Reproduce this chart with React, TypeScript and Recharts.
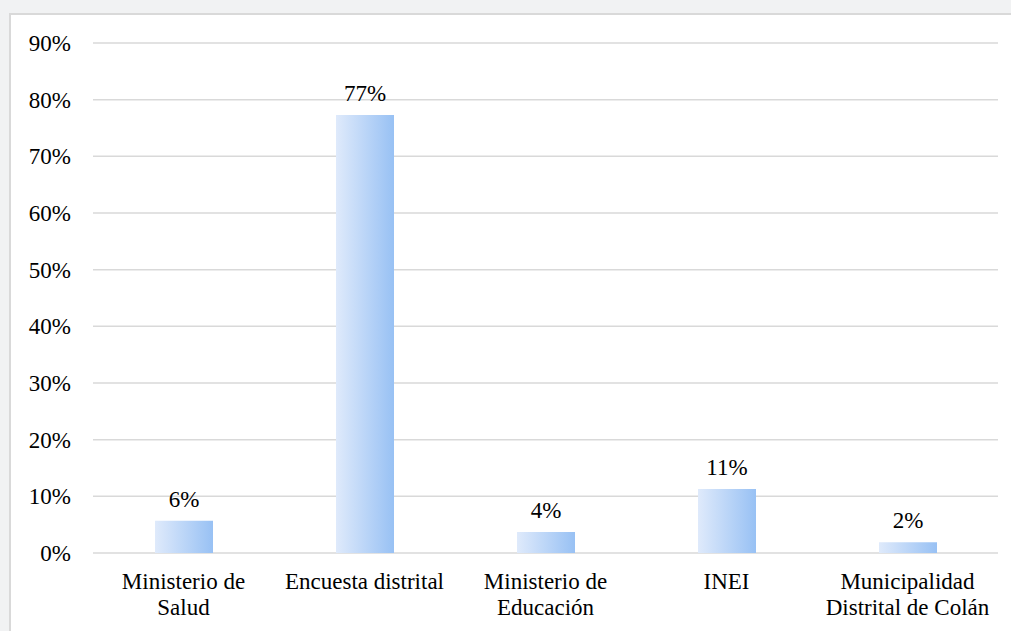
import React from 'react';
import { BarChart, Bar, XAxis, YAxis, CartesianGrid, LabelList } from 'recharts';

const categories = [
  'Ministerio de\nSalud',
  'Encuesta distrital',
  'Ministerio de\nEducación',
  'INEI',
  'Municipalidad\nDistrital de Colán',
];
const shares = [5.7, 77.3, 3.7, 11.3, 1.9];
const yTicks = [0, 10, 20, 30, 40, 50, 60, 70, 80, 90];

const data = categories.map((name, i) => ({ name, value: shares[i] }));

const FONT = '"Liberation Serif", "Times New Roman", serif';
const FS = 23;

const CategoryTick = (props: any) => {
  const { x, y, payload } = props;
  const lines = String(payload.value).split('\n');
  return (
    <text x={x} y={y} textAnchor="middle" fill="#000" style={{ fontFamily: FONT, fontSize: FS }}>
      {lines.map((line, i) => (
        <tspan key={i} x={x} dy={i === 0 ? 28 : 26}>
          {line}
        </tspan>
      ))}
    </text>
  );
};

const PercentTick = (props: any) => {
  const { x, y, payload } = props;
  // keep the label ~22px left of the plot area
  return (
    <text x={x - 14} y={y} dy={8} textAnchor="end" fill="#000" style={{ fontFamily: FONT, fontSize: FS }}>
      {`${payload.value}%`}
    </text>
  );
};

const ValueLabel = (props: any) => {
  const { x, y, width, value } = props;
  return (
    <text x={x + width / 2} y={y - 14} textAnchor="middle" fill="#000" style={{ fontFamily: FONT, fontSize: FS }}>
      {`${Math.round(Number(value))}%`}
    </text>
  );
};

export default function App() {
  return (
    <div style={{ position: 'absolute', left: 0, top: 0, width: 1011, height: 631, background: '#f1f2f3', overflow: 'hidden', fontFamily: FONT }}>
      <div
        style={{
          position: 'absolute',
          left: 9,
          top: 13,
          width: 1010,
          height: 630,
          background: '#fff',
          border: '2px solid #d9d9d9',
          boxSizing: 'border-box',
        }}
      >
        <BarChart
          width={1001}
          height={617}
          data={data}
          margin={{ top: 28, right: 14, left: 0, bottom: 0 }}
          barSize={58}
        >
          <defs>
            <linearGradient id="barFill" x1="0" y1="0" x2="1" y2="0">
              <stop offset="0%" stopColor="#dfeafb" />
              <stop offset="100%" stopColor="#98c1f4" />
            </linearGradient>
          </defs>
          <CartesianGrid vertical={false} stroke="#d9d9d9" strokeWidth={1.5} />
          <XAxis
            dataKey="name"
            axisLine={false}
            tickLine={false}
            interval={0}
            height={79}
            tick={<CategoryTick />}
          />
          <YAxis
            domain={[0, 90]}
            ticks={yTicks}
            axisLine={false}
            tickLine={false}
            width={82}
            tick={<PercentTick />}
          />
          <Bar dataKey="value" fill="url(#barFill)" isAnimationActive={false}>
            <LabelList dataKey="value" content={<ValueLabel />} />
          </Bar>
        </BarChart>
      </div>
    </div>
  );
}
